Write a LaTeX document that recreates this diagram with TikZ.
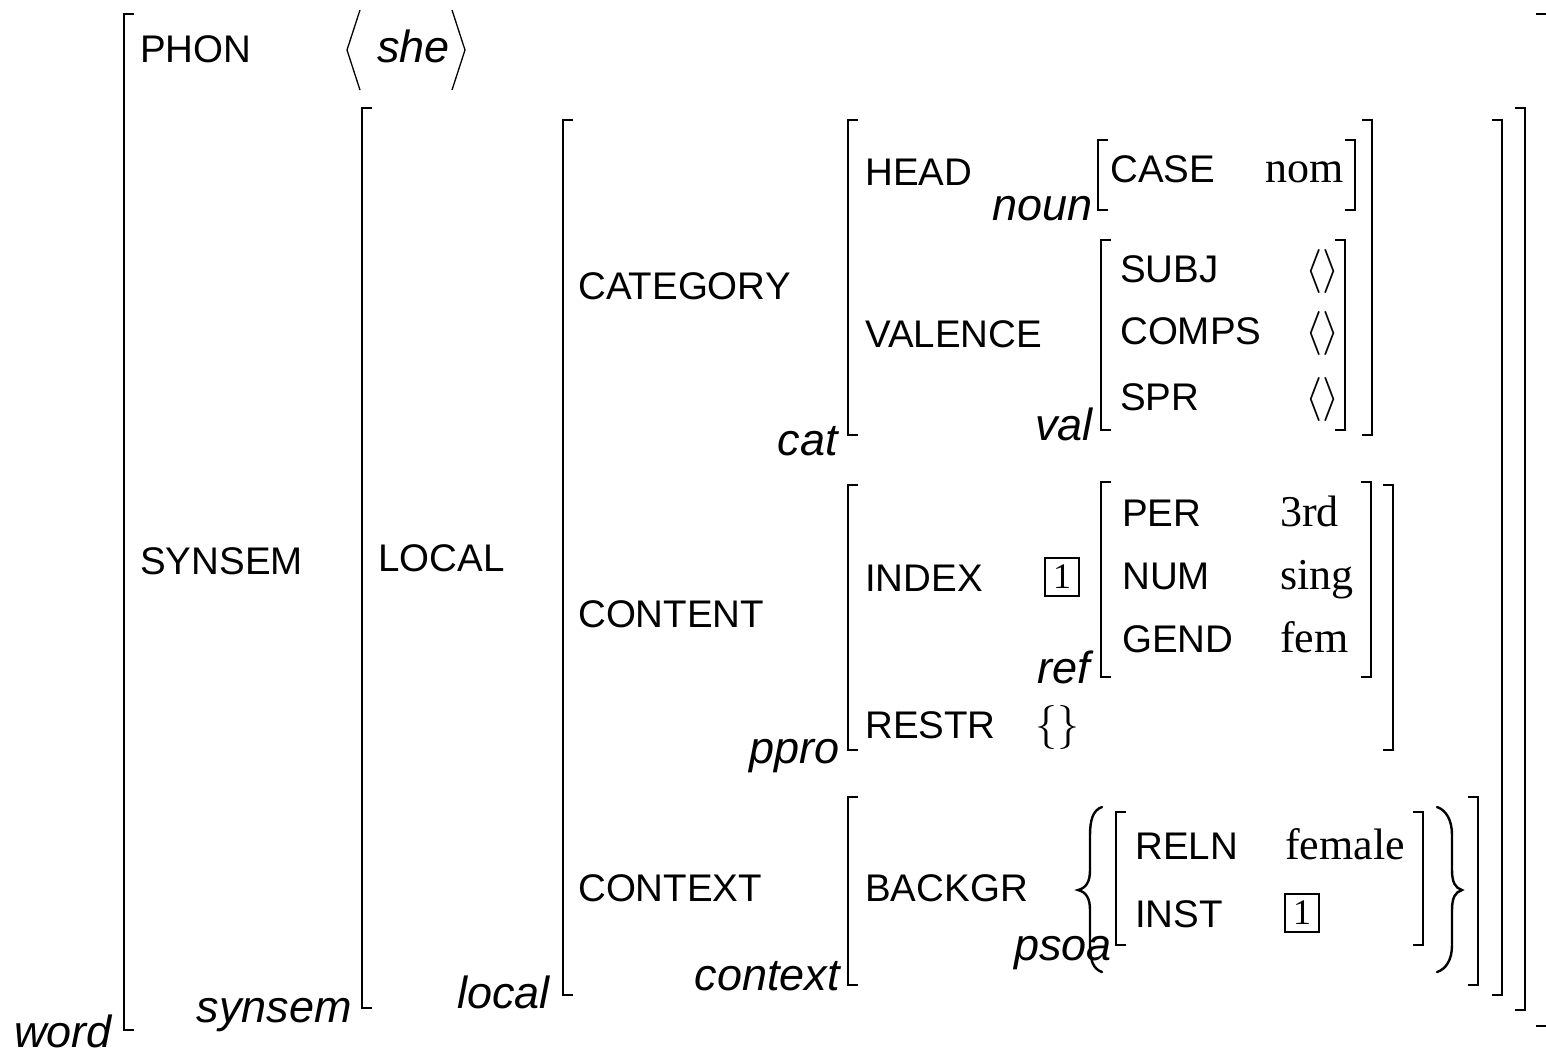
\documentclass[tikz,border=0pt]{standalone}
\usepackage{fix-cm}
\usepackage{fontspec}
\setmainfont{Liberation Serif}
\setsansfont{Liberation Sans}
\begin{document}
\begin{tikzpicture}[x=1pt,y=-1pt,
    feat/.style={anchor=base west,inner sep=0,font=\sffamily\fontsize{38.5}{44}\selectfont},
    atom/.style={anchor=base west,inner sep=0,font=\rmfamily\fontsize{44}{50}\selectfont},
    sort/.style={anchor=base east,inner sep=0,font=\sffamily\itshape\fontsize{45}{52}\selectfont},
    tagbox/.style={draw,line width=1.3pt,inner sep=0,minimum width=34,minimum height=38,font=\rmfamily\fontsize{36}{40}\selectfont},
    curly/.style={line width=2.4pt,line cap=round},
    brk/.style={line width=2.2pt}]
    \useasboundingbox (0,0) rectangle (1546,1053);

    % brackets, outside in
    \draw[brk] (134,14) -| (124,1030) -- (134,1030);
    \draw[brk] (1536,14) -| (1547,1026) -- (1536,1026);
    \draw[brk] (372,108) -| (362,1008) -- (372,1008);
    \draw[brk] (1515,108) -| (1525,1010) -- (1515,1010);
    \draw[brk] (573,120) -| (563,995) -- (573,995);
    \draw[brk] (1492,120) -| (1502,995) -- (1492,995);
    \draw[brk] (858,120) -| (848,435) -- (858,435);
    \draw[brk] (1362,120) -| (1372,435) -- (1362,435);
    \draw[brk] (1108,140) -| (1098,210) -- (1108,210);
    \draw[brk] (1345,140) -| (1355,210) -- (1345,210);
    \draw[brk] (1111,240) -| (1101,430) -- (1111,430);
    \draw[brk] (1335,240) -| (1345,430) -- (1335,430);
    \draw[brk] (858,485) -| (848,750) -- (858,750);
    \draw[brk] (1383,485) -| (1393,750) -- (1383,750);
    \draw[brk] (1111,482) -| (1101,677) -- (1111,677);
    \draw[brk] (1361,482) -| (1371,677) -- (1361,677);
    \draw[brk] (858,797) -| (848,985) -- (858,985);
    \draw[brk] (1468,797) -| (1478,985) -- (1468,985);
    \draw[brk] (1126,812) -| (1116,945) -- (1126,945);
    \draw[brk] (1413,812) -| (1423,945) -- (1413,945);

    % word
    \node[feat] at (140, 62) (phon) {PHON};
    \draw[line width=1.3pt] (360,10) -- (347,50) -- (360,90);
    \node[sort] at (450, 62) (she) {she};
    \draw[line width=1.3pt] (452,10) -- (465,50) -- (452,90);
    \node[feat] at (140, 574) (synsem) {SYNSEM};
    \node[sort] at (112, 1047) (word) {word};

    % synsem
    \node[feat] at (378, 571) (local) {LOCAL};
    \node[sort] at (352, 1022) (synsemT) {synsem};

    % local
    \node[feat] at (578, 299) (category) {CATEGORY};
    \node[feat] at (578, 627) (content) {CONTENT};
    \node[feat] at (578, 901) (context) {CONTEXT};
    \node[sort] at (550, 1008) (localT) {local};

    % cat
    \node[feat] at (865, 185) (head) {HEAD};
    \node[feat] at (1110, 182) (case) {CASE};
    \node[atom] at (1265, 182) (nom) {nom};
    \node[sort] at (1093, 220) (noun) {noun};
    \node[feat] at (865, 347) (valence) {VALENCE};
    \node[feat] at (1120, 282) (subj) {SUBJ};
    \node[atom] at (1305, 282) (subjV) {$\langle\rangle$};
    \node[feat] at (1120, 344) (comps) {COMPS};
    \node[atom] at (1305, 344) (compsV) {$\langle\rangle$};
    \node[feat] at (1120, 410) (spr) {SPR};
    \node[atom] at (1305, 410) (sprV) {$\langle\rangle$};
    \node[sort] at (1093, 440) (val) {val};
    \node[sort] at (838, 455) (cat) {cat};

    % ppro
    \node[feat] at (865, 591) (index) {INDEX};
    \node[tagbox] at (1062, 577) (tagA) {1};
    \node[feat] at (1122, 526) (per) {PER};
    \node[atom] at (1280, 526) (perV) {3rd};
    \node[feat] at (1122, 589) (num) {NUM};
    \node[atom] at (1280, 589) (numV) {sing};
    \node[feat] at (1122, 652) (gend) {GEND};
    \node[atom] at (1280, 652) (gendV) {fem};
    \node[sort] at (1090, 683) (ref) {ref};
    \node[feat] at (865, 738) (restr) {RESTR};
    \node[atom] at (1035, 738) (restrV) {$\{\}$};
    \node[sort] at (840, 763) (ppro) {ppro};

    % context
    \node[feat] at (865, 901) (backgr) {BACKGR};
    \draw[curly] (1102,807) .. controls (1093,810) and (1090,820) .. (1090,835) -- (1090,870)
        .. controls (1090,882) and (1086,888) .. (1078,890)
        .. controls (1086,892) and (1090,898) .. (1090,910) -- (1090,945)
        .. controls (1090,960) and (1093,969) .. (1102,972);
    \draw[curly] (1437,807) .. controls (1446,810) and (1452,820) .. (1452,835) -- (1452,870)
        .. controls (1452,882) and (1455,888) .. (1462,890)
        .. controls (1455,892) and (1452,898) .. (1452,910) -- (1452,945)
        .. controls (1452,960) and (1446,969) .. (1437,972);
    \node[feat] at (1135, 859) (reln) {RELN};
    \node[atom] at (1285, 859) (relnV) {female};
    \node[feat] at (1135, 927) (inst) {INST};
    \node[tagbox] at (1302, 913) (tagB) {1};
    \node[sort] at (1112, 960) (psoa) {psoa};
    \node[sort] at (840, 990) (contextT) {context};
\end{tikzpicture}
\end{document}
